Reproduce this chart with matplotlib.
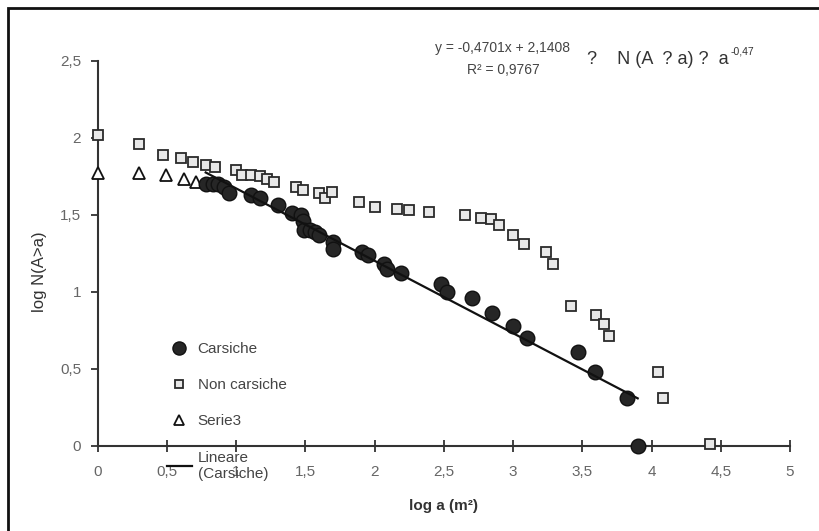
import matplotlib
matplotlib.use('Agg')
import matplotlib.pyplot as plt
from matplotlib.patches import Rectangle
import numpy as np

plt.rcParams['font.family'] = ['Liberation Sans', 'DejaVu Sans']

# Carsiche (filled circles)
carsiche_x = [0.78, 0.83, 0.87, 0.91, 0.95, 1.11, 1.17, 1.30, 1.40, 1.47, 1.48,
              1.49, 1.53, 1.57, 1.60, 1.70, 1.70, 1.91, 1.95, 2.07, 2.09, 2.19,
              2.48, 2.52, 2.70, 2.85, 3.00, 3.10, 3.47, 3.59, 3.82, 3.90]
carsiche_y = [1.70, 1.70, 1.70, 1.68, 1.64, 1.63, 1.61, 1.56, 1.51, 1.50, 1.46,
              1.40, 1.40, 1.39, 1.37, 1.32, 1.28, 1.26, 1.24, 1.18, 1.15, 1.12,
              1.05, 1.00, 0.96, 0.86, 0.78, 0.70, 0.61, 0.48, 0.31, 0.00]

# Non carsiche (squares)
noncars_x = [0.00, 0.30, 0.47, 0.60, 0.69, 0.78, 0.85, 1.00, 1.04, 1.11, 1.17,
             1.22, 1.27, 1.43, 1.48, 1.60, 1.64, 1.69, 1.89, 2.00, 2.16, 2.25,
             2.39, 2.65, 2.77, 2.84, 2.90, 3.00, 3.08, 3.24, 3.29, 3.42, 3.60,
             3.66, 3.69, 4.05, 4.08, 4.42]
noncars_y = [2.02, 1.96, 1.89, 1.87, 1.84, 1.82, 1.81, 1.79, 1.76, 1.76, 1.75,
             1.73, 1.71, 1.68, 1.66, 1.64, 1.61, 1.65, 1.58, 1.55, 1.54, 1.53,
             1.52, 1.50, 1.48, 1.47, 1.43, 1.37, 1.31, 1.26, 1.18, 0.91, 0.85,
             0.79, 0.71, 0.48, 0.31, 0.01]

# Serie3 (triangles)
serie3_x = [0.00, 0.30, 0.49, 0.62, 0.71]
serie3_y = [1.77, 1.77, 1.76, 1.73, 1.71]

# linear fit on Carsiche, as printed on the chart
slope = -0.4701
intercept = 2.1408
r2 = 0.9767

x_ticks = [0, 0.5, 1, 1.5, 2, 2.5, 3, 3.5, 4, 4.5, 5]
y_ticks = [0, 0.5, 1, 1.5, 2, 2.5]


def comma(v):
    return ('%g' % v).replace('.', ',')


W, H = 820, 531
fig = plt.figure(figsize=(W / 100, H / 100), dpi=100)
ax = fig.add_axes([97.7 / W, 1 - 445.7 / H, (790 - 97.7) / W, (445.7 - 60.7) / H])

ax.plot(carsiche_x, carsiche_y, 'o', ms=10.5, mfc='#262626', mec='#111111',
        mew=1, label='Carsiche', clip_on=False, zorder=4)
ax.plot(noncars_x, noncars_y, 's', ms=7, mfc='#e8e8e8', mec='#2a2a2a',
        mew=1.3, label='Non carsiche', clip_on=False, zorder=3)
ax.plot(serie3_x, serie3_y, '^', ms=8, mfc='white', mec='#111111',
        mew=1.3, label='Serie3', clip_on=False, zorder=3)

fit_x = np.array([min(carsiche_x), max(carsiche_x)])
ax.plot(fit_x, slope * fit_x + intercept, '-', color='#111111', lw=1.6,
        label='Lineare\n(Carsiche)', zorder=5)

ax.set_xlim(0, 5)
ax.set_ylim(0, 2.5)
ax.set_xticks(x_ticks)
ax.set_yticks(y_ticks)
ax.set_xticklabels([comma(v) for v in x_ticks])
ax.set_yticklabels([comma(v) for v in y_ticks])

for side in ['top', 'right']:
    ax.spines[side].set_visible(False)
for side in ['left', 'bottom']:
    ax.spines[side].set_color('#333333')
    ax.spines[side].set_linewidth(1.5)

ax.tick_params(axis='x', direction='inout', length=8, width=1.3, color='#333333',
               labelsize=11, labelcolor='#666666', pad=10)
ax.tick_params(axis='y', direction='out', length=5, width=1.3, color='#333333',
               labelsize=11, labelcolor='#666666', pad=7)

ax.set_xlabel('log a (m²)', fontsize=11, fontweight='bold', color='#333333',
              labelpad=14)
fig.text(40 / W, 1 - 272 / H, 'log N(A>a)', rotation=90, ha='center',
         va='center', fontsize=12, color='#333333')

# legend without frame, inside the plot area
ax.legend(loc='upper left', bbox_to_anchor=(161 / W, 1 - 336 / H),
          bbox_transform=fig.transFigure, frameon=False, fontsize=11,
          labelspacing=1.45, handlelength=1.6, handletextpad=0.4,
          borderaxespad=0, labelcolor='#444444', markerscale=0.9)

# equation box
fig.text(503 / W, 1 - 48 / H, 'y = -0,4701x + 2,1408', ha='center',
         va='center', fontsize=10, color='#444444')
fig.text(503 / W, 1 - 70 / H, 'R² = ' + comma(r2), ha='center',
         va='center', fontsize=10, color='#444444')
fig.text(587 / W, 1 - 60 / H, '?    N (A  ? a) ?  a', ha='left', va='center',
         fontsize=13, color='#333333')
fig.text(731 / W, 1 - 51 / H, '-0,47', ha='left', va='center',
         fontsize=7.5, color='#333333')

# outer chart frame (cropped at right and bottom)
fig.add_artist(Rectangle((8 / W, -0.05), 1.1, 1.05 - 8 / H,
                         transform=fig.transFigure, fill=False,
                         edgecolor='#111111', lw=2))

fig.savefig('out.png', dpi=100)
